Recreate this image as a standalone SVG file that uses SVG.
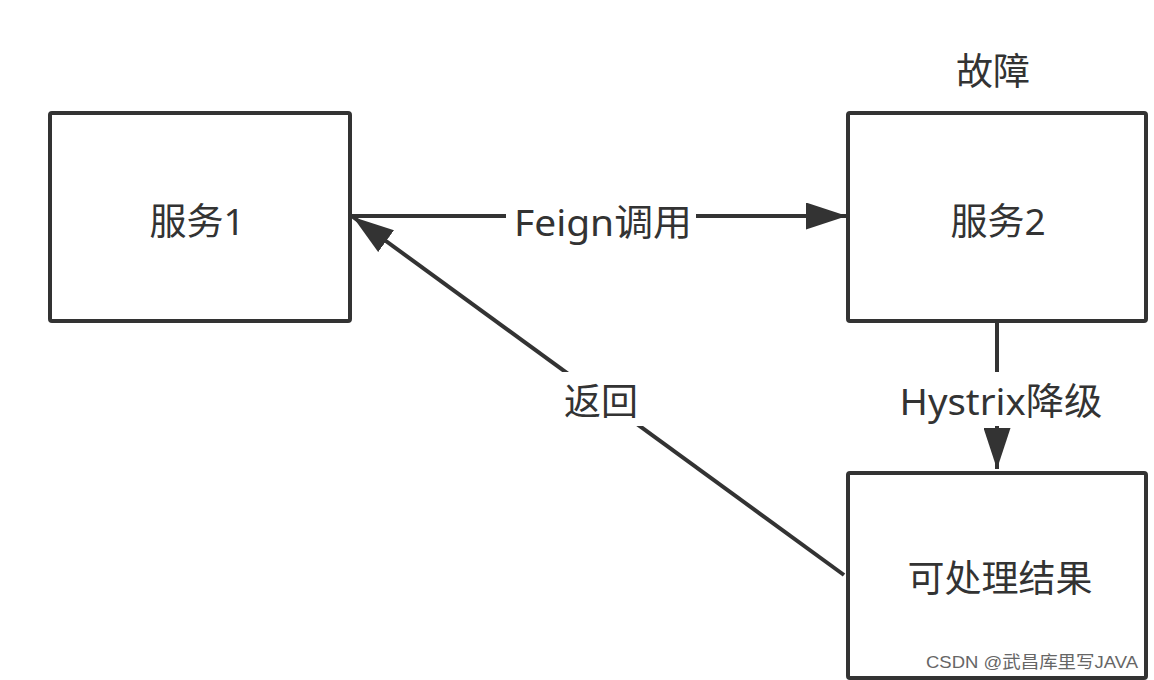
<svg xmlns="http://www.w3.org/2000/svg" width="1154" height="680" viewBox="0 0 1154 680">
<style>
.box{fill:#fff;stroke:#333;stroke-width:4}
.lbl{font-family:"Noto Sans","Noto Sans CJK SC",sans-serif;font-size:37px;fill:#333;text-anchor:middle}
.edge{fill:none;stroke:#333;stroke-width:4}
.bg{fill:#fff}
.wm{font-family:"Liberation Sans","Noto Sans CJK SC",sans-serif;font-size:17px;fill:#666}
</style>
<defs>
<marker id="ah" viewBox="0 0 41 27" refX="41" refY="13.5" markerWidth="41" markerHeight="27" markerUnits="userSpaceOnUse" orient="auto">
<path d="M0,0 L41,13.5 L0,27 Z" fill="#333"/>
</marker>
</defs>
<rect width="1154" height="680" fill="#fff"/>
<g id="connectors">
<path class="edge" d="M352,216 L847,216" marker-end="url(#ah)"/>
<rect class="bg" x="506" y="194" width="190" height="48"/>
<text class="lbl" x="603" y="236" textLength="178" lengthAdjust="spacingAndGlyphs">Feign调用</text>
<path class="edge" d="M997,323 L997,469" marker-end="url(#ah)"/>
<rect class="bg" x="895" y="372" width="212" height="54"/>
<text class="lbl" x="1001" y="415" textLength="203" lengthAdjust="spacingAndGlyphs">Hystrix降级</text>
<path class="edge" d="M844,575 L353,217" marker-end="url(#ah)"/>
<rect class="bg" x="556" y="372" width="90" height="54"/>
<text class="lbl" x="601" y="415">返回</text>
</g>
<g id="node-service1">
<rect class="box" x="50" y="113" width="300" height="208" rx="2"/>
<text class="lbl" x="197" y="235">服务1</text>
</g>
<g id="node-service2">
<rect class="box" x="848" y="113" width="298" height="208" rx="2"/>
<text class="lbl" x="998" y="235">服务2</text>
<text class="lbl" x="993" y="85">故障</text>
</g>
<g id="node-result">
<rect class="box" x="848" y="473" width="298" height="205" rx="2"/>
<text class="lbl" x="1000" y="592">可处理结果</text>
</g>
<text class="wm" x="926" y="668" textLength="212" lengthAdjust="spacingAndGlyphs">CSDN @武昌库里写JAVA</text>
</svg>
